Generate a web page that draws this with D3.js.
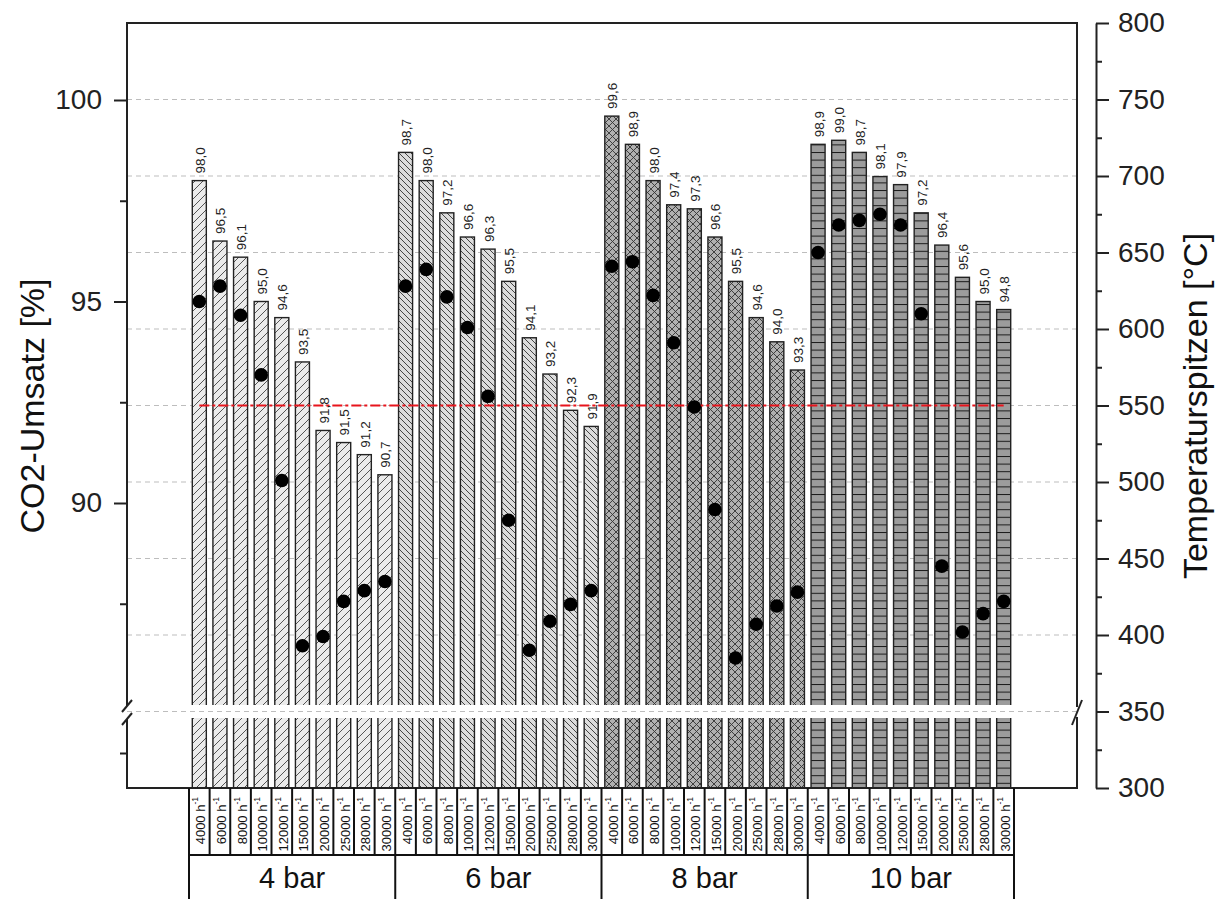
<!DOCTYPE html>
<html><head><meta charset="utf-8">
<script src="https://cdn.jsdelivr.net/npm/d3@7"></script>
<style>body{margin:0;background:#fff}svg{display:block}text{font-family:"Liberation Sans",Arial,sans-serif}</style>
</head><body><svg id="c" width="1223" height="899"></svg>
<script>
// ---- data ----
const groups = ["4 bar", "6 bar", "8 bar", "10 bar"];
const rates = ["4000", "6000", "8000", "10000", "12000", "15000", "20000", "25000", "28000", "30000"];
const conv4 = [98.0, 96.5, 96.1, 95.0, 94.6, 93.5, 91.8, 91.5, 91.2, 90.7];
const conv6 = [98.7, 98.0, 97.2, 96.6, 96.3, 95.5, 94.1, 93.2, 92.3, 91.9];
const conv8 = [99.6, 98.9, 98.0, 97.4, 97.3, 96.6, 95.5, 94.6, 94.0, 93.3];
const conv10 = [98.9, 99.0, 98.7, 98.1, 97.9, 97.2, 96.4, 95.6, 95.0, 94.8];
const temp4 = [618, 628, 609, 570, 501, 393, 399, 422, 429, 435];
const temp6 = [628, 639, 621, 601, 556, 475, 390, 409, 420, 429];
const temp8 = [641, 644, 622, 591, 549, 482, 385, 407, 419, 428];
const temp10 = [650, 668, 671, 675, 668, 610, 445, 402, 414, 422];
const leftTicks = [90, 95, 100];
const leftMinorTicks = [87.5, 92.5, 97.5];
const rightTicks = [300, 350, 400, 450, 500, 550, 600, 650, 700, 750, 800];
const rightMinorTicks = [325, 375, 425, 475, 525, 575, 625, 675, 725, 775];
const refTemp = 550;
const breakTemp = 350;

const convs = [conv4, conv6, conv8, conv10];
const temps = [temp4, temp6, temp8, temp10];
const data = [];
groups.forEach((g, gi) => rates.forEach((r, ri) => data.push({
  key: g + "|" + r, group: g, gi, rate: r, conv: convs[gi][ri], temp: temps[gi][ri]
})));

// ---- layout ----
const svg = d3.select("#c");
const F = {l: 127, r: 1077, t: 23, b: 788};
const gapTop = 705, gapBot = 718;

const x = d3.scaleBand().domain(data.map(d => d.key)).range([189, 1014])
  .paddingInner(0.32).paddingOuter(0.16);
const step = x.step();
const yL = d3.scaleLinear().domain([90, 100]).range([503, 100]);
const yLow = d3.scaleLinear().domain([0, 10]).range([F.b, gapBot]);
const yR = d3.scaleLinear().domain([300, 800]).range([F.b, F.t]);

// ---- patterns ----
const defs = svg.append("defs");
function pat(id, w, h, fill, path, stroke, sw) {
  const p = defs.append("pattern").attr("id", id).attr("patternUnits", "userSpaceOnUse")
    .attr("width", w).attr("height", h);
  p.append("rect").attr("width", w).attr("height", h).attr("fill", fill);
  p.append("path").attr("d", path).attr("stroke", stroke).attr("stroke-width", sw).attr("fill", "none");
}
pat("p0", 8, 8, "#ebebeb", "M0,8L8,0M-2,2L2,-2M6,10L10,6", "#555", 1);
pat("p1", 6, 6, "#dcdcdc", "M0,0L6,6M-1.5,4.5L1.5,7.5M4.5,-1.5L7.5,1.5", "#444", 1);
pat("p2", 7, 7, "#b0b0b0", "M0,0L7,7M-1.75,5.25L1.75,8.75M5.25,-1.75L8.75,1.75M0,7L7,0M-1.75,1.75L1.75,-1.75M5.25,8.75L8.75,5.25", "#333", 0.9);
pat("p3", 14, 7.6, "#9c9c9c", "M0,0.5L14,0.5", "#1a1a1a", 1);

// ---- gridlines ----
const grid = svg.append("g");
grid.selectAll("line").data(rightTicks.filter(t => t > 300 && t < 800)).join("line")
  .attr("x1", F.l).attr("x2", F.r).attr("y1", d => yR(d)).attr("y2", d => yR(d))
  .attr("stroke", "#bdbdbd").attr("stroke-width", 1).attr("stroke-dasharray", "5,4");

// ---- bars ----
svg.append("g").selectAll("rect").data(data).join("rect")
  .attr("x", d => x(d.key)).attr("width", x.bandwidth())
  .attr("y", d => yL(d.conv)).attr("height", d => F.b - yL(d.conv))
  .attr("fill", d => `url(#p${d.gi})`).attr("stroke", "#222").attr("stroke-width", 1.4);

// axis break gap
svg.append("rect").attr("x", F.l + 1).attr("width", F.r - F.l - 2).attr("y", gapTop).attr("height", gapBot - gapTop).attr("fill", "#fff");
svg.append("line").attr("x1", F.l).attr("x2", F.r).attr("y1", yR(breakTemp)).attr("y2", yR(breakTemp))
  .attr("stroke", "#bdbdbd").attr("stroke-width", 1).attr("stroke-dasharray", "5,4");

// ---- reference line ----
svg.append("line")
  .attr("x1", x(data[0].key) + x.bandwidth() / 2).attr("x2", x(data[data.length - 1].key) + x.bandwidth() / 2)
  .attr("y1", yR(refTemp)).attr("y2", yR(refTemp))
  .attr("stroke", "#e8141c").attr("stroke-width", 2).attr("stroke-dasharray", "10,3,3,3");

// ---- dots ----
svg.append("g").selectAll("circle").data(data).join("circle")
  .attr("cx", d => x(d.key) + x.bandwidth() / 2).attr("cy", d => yR(d.temp)).attr("r", 6.8).attr("fill", "#000");

// ---- value labels ----
svg.append("g").selectAll("text").data(data).join("text")
  .attr("transform", d => `translate(${x(d.key) + x.bandwidth() / 2 + 1},${yL(d.conv) - 7}) rotate(-90)`)
  .attr("text-anchor", "start").attr("dominant-baseline", "central")
  .attr("font-size", 13.5).attr("fill", "#222")
  .text(d => d.conv.toFixed(1).replace(".", ","));

// ---- frame ----
const fr = svg.append("g").attr("stroke", "#222").attr("stroke-width", 2).attr("fill", "none");
fr.append("line").attr("x1", F.l - 1).attr("x2", F.r + 1).attr("y1", F.t).attr("y2", F.t);
fr.append("line").attr("x1", F.l - 1).attr("x2", F.r + 1).attr("y1", F.b).attr("y2", F.b);
fr.append("line").attr("x1", F.l).attr("x2", F.l).attr("y1", F.t).attr("y2", 706);
fr.append("line").attr("x1", F.l).attr("x2", F.l).attr("y1", 719).attr("y2", F.b);
fr.append("line").attr("x1", 122).attr("x2", 132).attr("y1", 712).attr("y2", 700);
fr.append("line").attr("x1", 122).attr("x2", 132).attr("y1", 725).attr("y2", 713);
fr.append("line").attr("x1", F.r).attr("x2", F.r).attr("y1", F.t).attr("y2", 707);
fr.append("line").attr("x1", F.r).attr("x2", F.r).attr("y1", 717).attr("y2", F.b);
fr.append("line").attr("x1", 1072).attr("x2", 1082).attr("y1", 725).attr("y2", 700);

// ---- left axis ----
const axL = svg.append("g").attr("transform", `translate(${F.l},0)`)
  .call(d3.axisLeft(yL).tickValues(leftTicks).tickSize(13).tickPadding(12).tickFormat(d3.format("d")));
axL.select(".domain").remove();
svg.append("g").attr("transform", `translate(${F.l},0)`)
  .call(d3.axisLeft(yL).tickValues(leftMinorTicks).tickSize(7).tickFormat(""))
  .select(".domain").remove();
svg.append("g").attr("transform", `translate(${F.l},0)`)
  .call(d3.axisLeft(yLow).tickValues([5]).tickSize(7).tickFormat(""))
  .select(".domain").remove();

// ---- right axis ----
const axR = svg.append("g").attr("transform", "translate(1096,0)")
  .call(d3.axisRight(yR).tickValues(rightTicks).tickSize(13).tickSizeOuter(0).tickPadding(9));
svg.append("g").attr("transform", "translate(1096,0)")
  .call(d3.axisRight(yR).tickValues(rightMinorTicks).tickSize(6).tickFormat(""))
  .select(".domain").remove();

svg.selectAll(".tick line, .domain").attr("stroke", "#222").attr("stroke-width", 2);
svg.selectAll(".tick text").attr("font-size", 28).attr("fill", "#222")
  .attr("font-family", '"Liberation Sans",Arial,sans-serif');

// ---- axis titles ----
svg.append("text").attr("transform", "translate(32,406) rotate(-90)")
  .attr("text-anchor", "middle").attr("dominant-baseline", "central")
  .attr("font-size", 34).attr("fill", "#111").text("CO2-Umsatz [%]");
svg.append("text").attr("transform", "translate(1195,406) rotate(-90)")
  .attr("text-anchor", "middle").attr("dominant-baseline", "central")
  .attr("font-size", 34).attr("fill", "#111").text("Temperaturspitzen [°C]");

// ---- category table ----
const tb = svg.append("g").attr("stroke", "#111").attr("stroke-width", 2);
const x0 = x.range()[0], x1 = x.range()[1];
const cellEdges = d3.range(data.length + 1).map(i => x0 + i * step);
tb.selectAll("line.c").data(cellEdges).join("line").attr("class", "c")
  .attr("x1", d => d).attr("x2", d => d).attr("y1", F.b).attr("y2", 855);
tb.append("line").attr("x1", x0 - 1).attr("x2", x1 + 1).attr("y1", 855).attr("y2", 855);
const groupEdges = d3.range(groups.length + 1).map(i => x0 + i * rates.length * step);
tb.selectAll("line.g").data(groupEdges).join("line").attr("class", "g")
  .attr("x1", d => d).attr("x2", d => d).attr("y1", 855).attr("y2", 899);

const cl = svg.append("g").selectAll("text").data(data).join("text")
  .attr("transform", d => `translate(${x(d.key) + x.bandwidth() / 2 + 1},797) rotate(-90)`)
  .attr("text-anchor", "end").attr("dominant-baseline", "central")
  .attr("font-size", 13).attr("fill", "#111");
cl.append("tspan").text(d => d.rate + " h");
cl.append("tspan").attr("font-size", 8.5).attr("dy", -5).text("-1");

svg.append("g").selectAll("text").data(groups).join("text")
  .attr("x", (g, i) => x0 + (i + 0.5) * rates.length * step).attr("y", 888)
  .attr("text-anchor", "middle").attr("font-size", 29).attr("fill", "#111").text(g => g);
</script></body></html>
